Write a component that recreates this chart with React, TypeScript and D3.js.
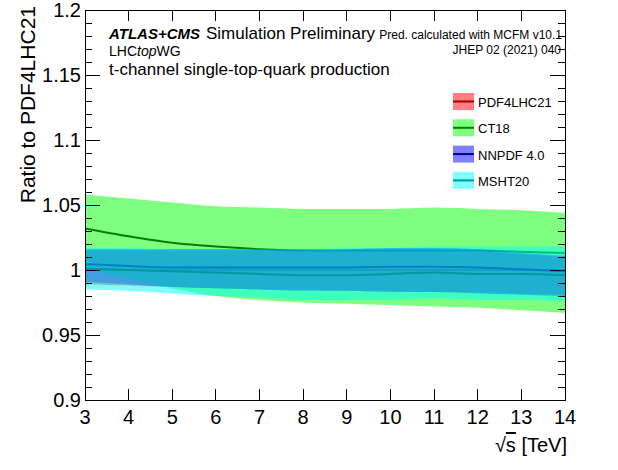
import React, { useEffect, useRef } from 'react';
import * as d3 from 'd3';

// sqrt(s) grid and ratios to PDF4LHC21
const energies = [3, 4, 5, 6, 7, 8, 9, 10, 11, 12, 13, 14];

const pdf4lhcCentral = [1, 1, 1, 1, 1, 1, 1, 1, 1, 1, 1, 1];
const pdf4lhcUp = [1.015, 1.015, 1.015, 1.015, 1.015, 1.015, 1.015, 1.015, 1.015, 1.014, 1.012, 1.010];
const pdf4lhcDown = [0.989, 0.988, 0.987, 0.986, 0.985, 0.985, 0.984, 0.984, 0.983, 0.983, 0.982, 0.981];

const ct18Central = [1.032, 1.026, 1.021, 1.018, 1.016, 1.015, 1.015, 1.015, 1.015, 1.015, 1.014, 1.013];
const ct18Up = [1.058, 1.055, 1.052, 1.049, 1.048, 1.047, 1.047, 1.047, 1.048, 1.047, 1.046, 1.044];
const ct18Down = [1.001, 0.993, 0.986, 0.980, 0.977, 0.975, 0.974, 0.973, 0.972, 0.971, 0.969, 0.967];

const nnpdfCentral = [1.0045, 1.003, 1.002, 1.002, 1.002, 1.002, 1.002, 1.0025, 1.0025, 1.002, 1.0005, 0.999];
const nnpdfUp = [1.016, 1.016, 1.016, 1.016, 1.016, 1.0155, 1.016, 1.017, 1.017, 1.016, 1.013, 1.011];
const nnpdfDown = [0.991, 0.989, 0.987, 0.986, 0.985, 0.984, 0.984, 0.983, 0.983, 0.982, 0.981, 0.980];

const mshtCentral = [1.001, 1.000, 0.999, 0.998, 0.997, 0.996, 0.996, 0.997, 0.998, 0.997, 0.997, 0.996];
const mshtUp = [1.017, 1.017, 1.016, 1.016, 1.016, 1.016, 1.017, 1.017, 1.018, 1.018, 1.018, 1.018];
const mshtDown = [0.985, 0.984, 0.982, 0.980, 0.979, 0.977, 0.977, 0.977, 0.978, 0.977, 0.977, 0.976];

const seriesNames = ['PDF4LHC21', 'CT18', 'NNPDF 4.0', 'MSHT20'];
const bandColors = ['#ff0000', '#00ff00', '#0000ff', '#00ffff'];
const lineColors = ['#a00000', '#008000', '#000090', '#009a9a'];

const xTicks = [3, 4, 5, 6, 7, 8, 9, 10, 11, 12, 13, 14];
const yTickLabels = ['0.9', '0.95', '1', '1.05', '1.1', '1.15', '1.2'];

export default function App() {
  const svgRef = useRef<SVGSVGElement>(null);

  useEffect(() => {
    if (!svgRef.current) return;
    const width = 618;
    const height = 470;
    const frame = { left: 85, right: 565, top: 10, bottom: 400 };

    const svg = d3.select(svgRef.current);
    svg.selectAll('*').remove();
    svg.attr('width', width).attr('height', height)
      .style('font-family', '"Liberation Sans", Arial, sans-serif');

    const x = d3.scaleLinear().domain([3, 14]).range([frame.left, frame.right]);
    const y = d3.scaleLinear().domain([0.9, 1.2]).range([frame.bottom, frame.top]);

    const series = [
      { c: pdf4lhcCentral, up: pdf4lhcUp, down: pdf4lhcDown },
      { c: ct18Central, up: ct18Up, down: ct18Down },
      { c: nnpdfCentral, up: nnpdfUp, down: nnpdfDown },
      { c: mshtCentral, up: mshtUp, down: mshtDown },
    ];

    const plot = svg.append('g');
    series.forEach((s, i) => {
      const area = d3.area<number>()
        .x((d, k) => x(energies[k]))
        .y0((d, k) => y(s.down[k]))
        .y1((d, k) => y(s.up[k]))
        .curve(d3.curveMonotoneX);
      plot.append('path')
        .attr('d', area(s.c))
        .attr('fill', bandColors[i])
        .attr('fill-opacity', 0.5);
      const line = d3.line<number>()
        .x((d, k) => x(energies[k]))
        .y(d => y(d))
        .curve(d3.curveMonotoneX);
      plot.append('path')
        .attr('d', line(s.c))
        .attr('fill', 'none')
        .attr('stroke', lineColors[i])
        .attr('stroke-width', 2);
    });

    // frame and ticks
    const axes = svg.append('g')
      .attr('stroke', '#000')
      .attr('shape-rendering', 'crispEdges');
    axes.append('rect')
      .attr('x', frame.left).attr('y', frame.top)
      .attr('width', frame.right - frame.left)
      .attr('height', frame.bottom - frame.top)
      .attr('fill', 'none');

    xTicks.forEach(t => {
      axes.append('line').attr('x1', x(t)).attr('x2', x(t))
        .attr('y1', frame.bottom).attr('y2', frame.bottom - 11);
      axes.append('line').attr('x1', x(t)).attr('x2', x(t))
        .attr('y1', frame.top).attr('y2', frame.top + 11);
    });

    d3.range(0, 31).forEach(k => {
      const v = 0.9 + k * 0.01;
      const len = k % 5 === 0 ? 15 : 7;
      axes.append('line').attr('x1', frame.left).attr('x2', frame.left + len)
        .attr('y1', y(v)).attr('y2', y(v));
      axes.append('line').attr('x1', frame.right).attr('x2', frame.right - len)
        .attr('y1', y(v)).attr('y2', y(v));
    });

    // tick labels
    const labels = svg.append('g').attr('font-size', 20).attr('fill', '#000');
    xTicks.forEach(t => {
      labels.append('text')
        .attr('x', x(t)).attr('y', frame.bottom + 24)
        .attr('text-anchor', 'middle')
        .text(t);
    });
    yTickLabels.forEach(t => {
      labels.append('text')
        .attr('x', frame.left - 4).attr('y', y(+t) + 7)
        .attr('text-anchor', 'end')
        .text(t);
    });

    // axis titles
    svg.append('text')
      .attr('transform', `translate(35, 6) rotate(-90)`)
      .attr('text-anchor', 'end')
      .attr('font-size', 21)
      .text('Ratio to PDF4LHC21');

    const xt = svg.append('text')
      .attr('x', frame.right + 2).attr('y', 452)
      .attr('text-anchor', 'end')
      .attr('font-size', 20);
    xt.append('tspan').text('√');
    xt.append('tspan').attr('text-decoration', 'overline').text('s');
    xt.append('tspan').text(' [TeV]');

    // labels at the top
    const t1 = svg.append('text').attr('x', 109).attr('y', 39);
    t1.append('tspan').attr('font-size', 15).attr('font-weight', 'bold')
      .attr('font-style', 'italic').text('ATLAS+CMS');
    t1.append('tspan').attr('font-size', 17).attr('dx', 6).text('Simulation Preliminary');

    svg.append('text').attr('x', 562).attr('y', 39)
      .attr('text-anchor', 'end').attr('font-size', 12)
      .text('Pred. calculated with MCFM v10.1');
    svg.append('text').attr('x', 561).attr('y', 54)
      .attr('text-anchor', 'end').attr('font-size', 12)
      .text('JHEP 02 (2021) 040');

    const t2 = svg.append('text').attr('x', 109).attr('y', 56).attr('font-size', 14);
    t2.append('tspan').text('LHC');
    t2.append('tspan').attr('font-style', 'italic').text('top');
    t2.append('tspan').text('WG');

    svg.append('text').attr('x', 109).attr('y', 75).attr('font-size', 17)
      .text('t-channel single-top-quark production');

    // legend
    const legend = svg.append('g');
    seriesNames.forEach((name, i) => {
      const top = 93 + i * 26.3;
      legend.append('rect')
        .attr('x', 453).attr('y', top)
        .attr('width', 21).attr('height', 17)
        .attr('fill', bandColors[i]).attr('fill-opacity', 0.5);
      legend.append('line')
        .attr('x1', 453).attr('x2', 474)
        .attr('y1', top + 8.5).attr('y2', top + 8.5)
        .attr('stroke', lineColors[i]).attr('stroke-width', 2);
      legend.append('text')
        .attr('x', 478).attr('y', top + 14)
        .attr('font-size', 13)
        .text(name);
    });
  }, []);

  return (
    <div style={{ position: 'absolute', left: 0, top: 0 }}>
      <svg ref={svgRef}></svg>
    </div>
  );
}
